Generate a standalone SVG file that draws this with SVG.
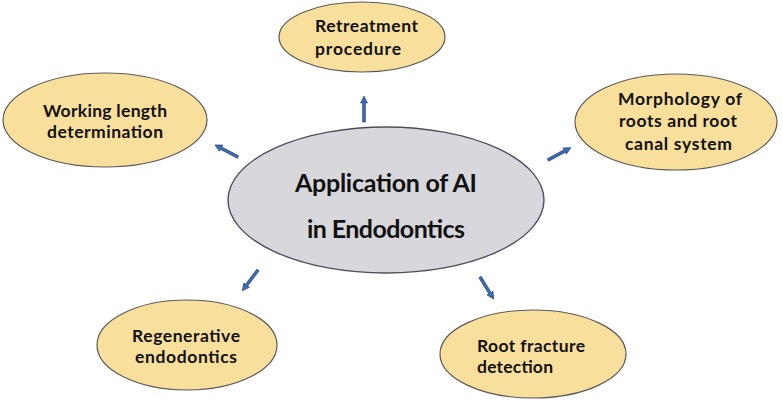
<svg xmlns="http://www.w3.org/2000/svg" width="783" height="404" viewBox="0 0 783 404">
<style>
.node{fill:#F9DF9C;stroke:#5A5A5A;stroke-width:1.2}
.hub{fill:#D8D8DC;stroke:#4E4E5E;stroke-width:1.4}
.t{font-family:Lato,"Liberation Sans",sans-serif;font-weight:700;font-size:17.5px;fill:#111}
.ht{font-family:Lato,"Liberation Sans",sans-serif;font-weight:700;font-size:25px;fill:#111}
.arr{fill:#3B6CB4;stroke:#1E3A66;stroke-width:0.6}
</style>
<defs>
<path id="ar" class="arr" d="M0,-1.4 L19,-1.4 L19,-3.5 L26,0 L19,3.5 L19,1.4 L0,1.4 Z"/>
</defs>
<rect width="783" height="404" fill="#fff"/>
<g id="connectors">
<use href="#ar" transform="translate(364,122) rotate(-90)"/>
<use href="#ar" transform="translate(238,157) rotate(-152.4)"/>
<use href="#ar" transform="translate(548,160) rotate(-28.4)"/>
<use href="#ar" transform="translate(258,270) rotate(126.9)"/>
<use href="#ar" transform="translate(480,277) rotate(58.2)"/>
</g>
<g id="hub">
<ellipse class="hub" cx="386" cy="200" rx="158" ry="73"/>
<text class="ht" x="295" y="192" textLength="182">Application of AI</text>
<text class="ht" x="307" y="238" textLength="158">in Endodontics</text>
</g>
<g id="retreatment">
<ellipse class="node" cx="362" cy="37" rx="83" ry="35"/>
<text class="t" x="315" y="32" textLength="103">Retreatment</text>
<text class="t" x="315" y="55" textLength="86">procedure</text>
</g>
<g id="working-length">
<ellipse class="node" cx="105" cy="120" rx="102" ry="47"/>
<text class="t" x="43" y="117" textLength="124">Working length</text>
<text class="t" x="47" y="138" textLength="116">determination</text>
</g>
<g id="morphology">
<ellipse class="node" cx="676" cy="122" rx="101" ry="48"/>
<text class="t" x="618" y="105" textLength="124">Morphology of</text>
<text class="t" x="619" y="127" textLength="118">roots and root</text>
<text class="t" x="625" y="150" textLength="107">canal system</text>
</g>
<g id="regenerative">
<ellipse class="node" cx="187" cy="345" rx="90" ry="45"/>
<text class="t" x="132" y="342" textLength="108">Regenerative</text>
<text class="t" x="135" y="363" textLength="102">endodontics</text>
</g>
<g id="root-fracture">
<ellipse class="node" cx="533" cy="354" rx="93" ry="44"/>
<text class="t" x="477" y="352" textLength="108">Root fracture</text>
<text class="t" x="477" y="373" textLength="76">detection</text>
</g>
</svg>
